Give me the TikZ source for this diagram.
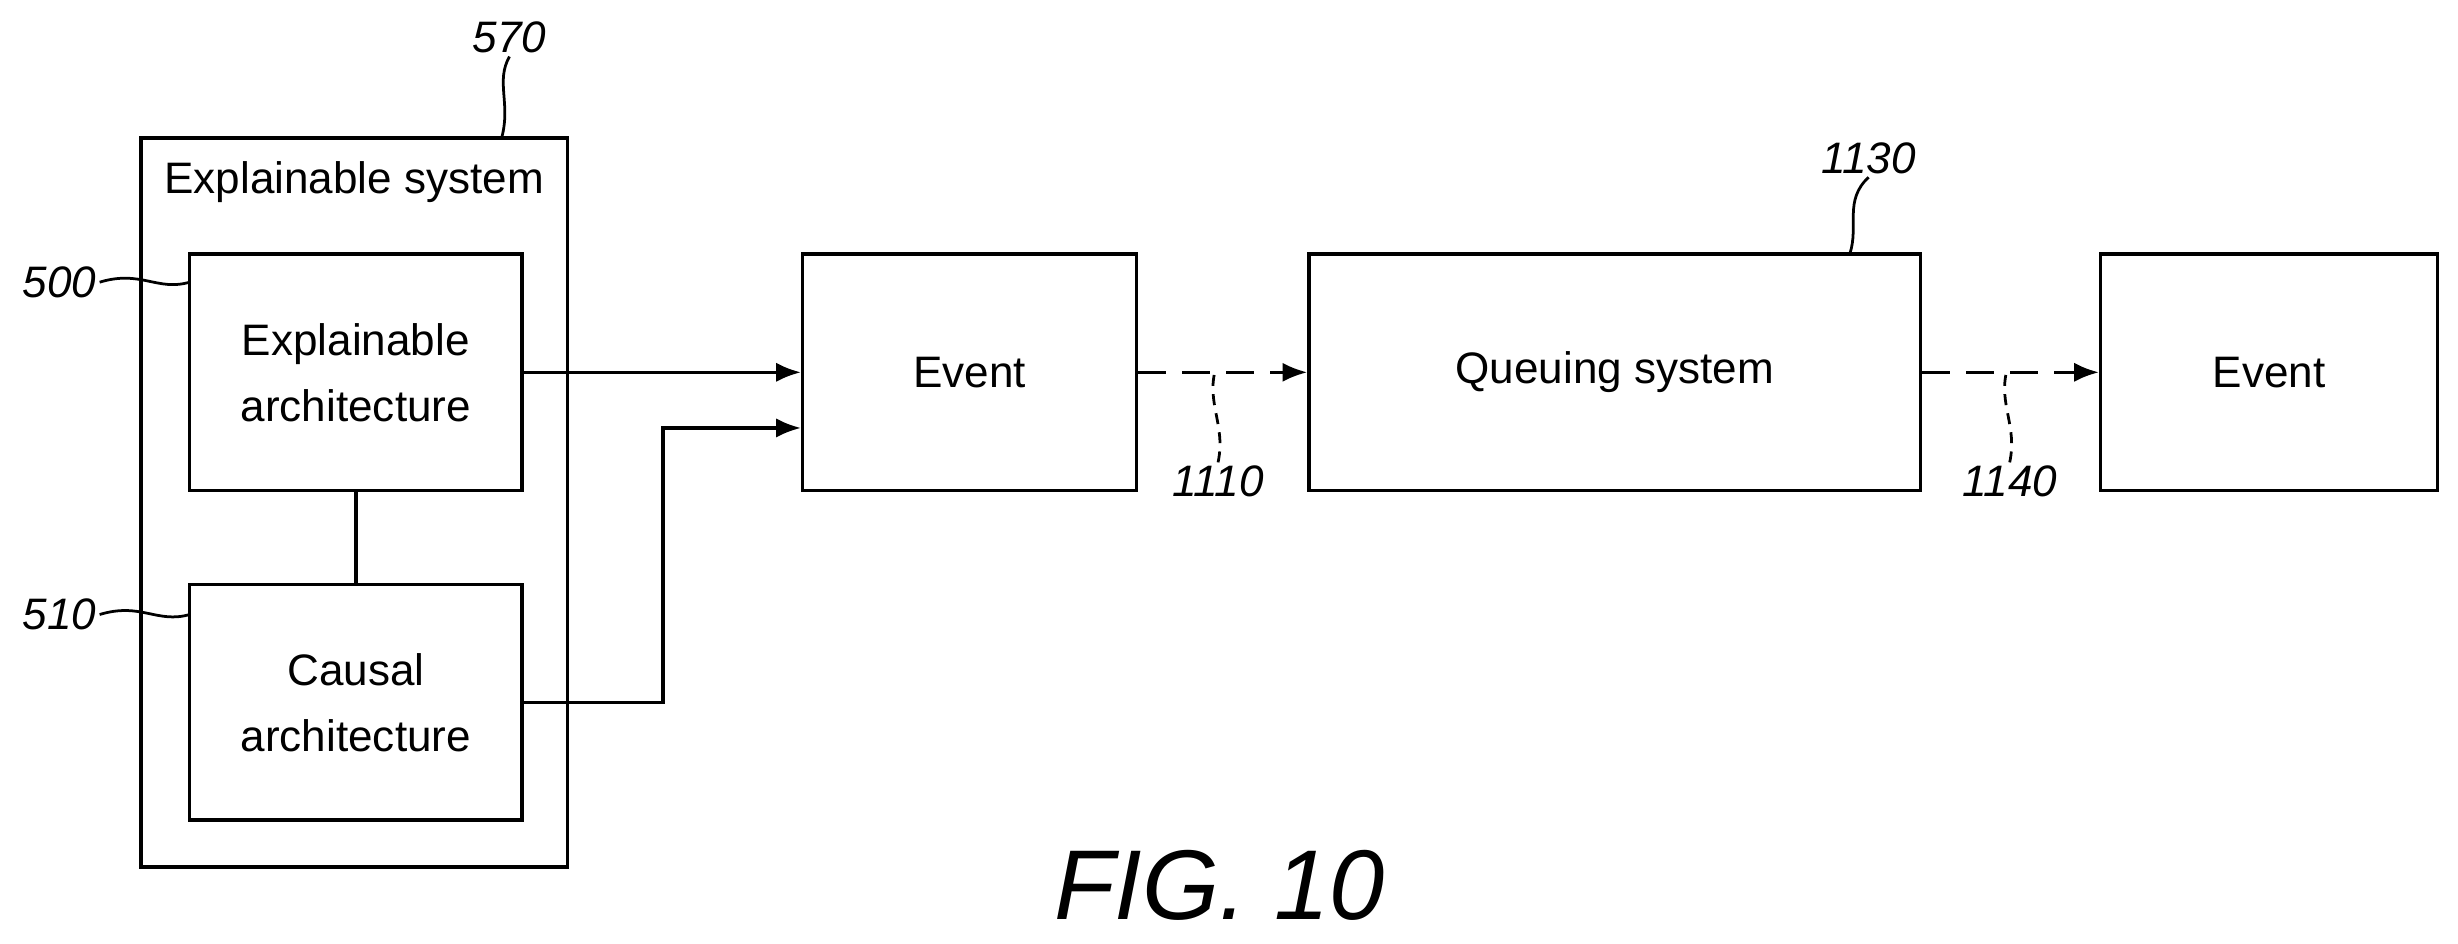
\documentclass[tikz,border=0pt]{standalone}
\usepackage{fontspec}
\setmainfont{Liberation Sans}
\usetikzlibrary{arrows.meta}
\usetikzlibrary{positioning}

\tikzset{
  blk/.style={draw, line width=1.2pt, align=center, font=\fontsize{16}{20}\selectfont, inner sep=0pt},
  reflbl/.style={font=\fontsize{16}{18}\selectfont\itshape, inner sep=1pt},
  flow/.style={line width=1.2pt, -{Latex[length=9pt,width=7pt]}},
  squig/.style={line width=1pt}
}

\begin{document}
\begin{tikzpicture}[x=0.02cm, y=-0.02cm]
		\useasboundingbox (0,0) rectangle (1568,602);
		% outer system
		\draw[line width=1.2pt] (90,88) rectangle (362,553);
		\node[font=\fontsize{16}{20}\selectfont] (sys) at (226,116) {Explainable system};
		\node[blk, minimum width=212*0.02cm, minimum height=151*0.02cm] (xarch) at (227,237.5) {Explainable\\[4pt]architecture};
		\node[blk, minimum width=212*0.02cm, minimum height=150*0.02cm] (carch) at (227,448) {Causal\\[4pt]architecture};
		\node[blk, minimum width=213*0.02cm, minimum height=151*0.02cm] (ev1) at (618.5,237.5) {Event};
		\node[blk, minimum width=390*0.02cm, minimum height=151*0.02cm] (queue) at (1030,237.5) {Queuing system};
		\node[blk, minimum width=215*0.02cm, minimum height=151*0.02cm] (ev2) at (1447.5,237.5) {Event};
		% connectors
		\draw[line width=1.2pt] (xarch.south) -- (carch.north);
		\draw[flow] (xarch.east) -- (ev1.west);
		\draw[flow] (carch.east) -- (423,448) -- (423,273) -- (ev1.west |- 0,273);
		\draw[flow, dashed, dash pattern=on 10pt off 6pt] (ev1.east) -- (queue.west);
		\draw[flow, dashed, dash pattern=on 10pt off 6pt] (queue.east) -- (ev2.west);
		% reference numerals
		\node[reflbl] (n570) at (325,24) {570};
		\node[reflbl] (n500) at (38,180) {500};
		\node[reflbl] (n510) at (38,392) {510};
		\node[reflbl] (n1130) at (1192,101) {1130};
		\node[reflbl] (n1110) at (777,307) {1110};
		\node[reflbl] (n1140) at (1282,307) {1140};
		\draw[squig] (n570.south) .. controls (316,52) and (326,66) .. (320,88);
		\draw[squig] (n500.east) .. controls (90,172) and (100,186) .. (121,180);
		\draw[squig] (n510.east) .. controls (90,384) and (100,398) .. (121,392);
		\draw[squig] (n1130.south) .. controls (1176,128) and (1186,144) .. (1180,162);
		\draw[squig, dashed, dash pattern=on 4pt off 3pt] (n1110.north) .. controls (782,272) and (770,258) .. (775,237);
		\draw[squig, dashed, dash pattern=on 4pt off 3pt] (n1140.north) .. controls (1287,272) and (1275,258) .. (1280,237);
		\node[font=\fontsize{36}{40}\selectfont\itshape] (fig) at (778,565) {FIG. 10};
	\end{tikzpicture}
\end{document}
